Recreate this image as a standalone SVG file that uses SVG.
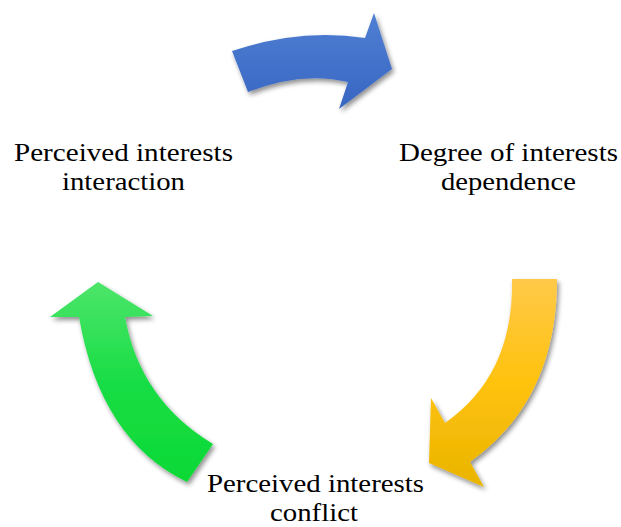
<svg xmlns="http://www.w3.org/2000/svg" width="621" height="527" viewBox="0 0 621 527">
<style>
text{font-family:"Liberation Serif","Times New Roman",serif;font-size:26px;fill:#000;text-anchor:middle}
.arrow{filter:url(#sh)}
</style>
<defs>
<filter id="sh" x="-20%" y="-20%" width="150%" height="150%">
<feGaussianBlur in="SourceAlpha" stdDeviation="2.5"/>
<feOffset dx="2" dy="3" result="b"/>
<feComponentTransfer><feFuncA type="linear" slope="0.45"/></feComponentTransfer>
<feMerge><feMergeNode/><feMergeNode in="SourceGraphic"/></feMerge>
</filter>
<linearGradient id="gb" x1="0" y1="0" x2="0" y2="1">
<stop offset="0" stop-color="#4f7fd3"/>
<stop offset="1" stop-color="#3866c2"/>
</linearGradient>
<linearGradient id="gy" x1="0" y1="0" x2="0" y2="1">
<stop offset="0" stop-color="#ffc948"/>
<stop offset="0.5" stop-color="#ffc20e"/>
<stop offset="1" stop-color="#e9b400"/>
</linearGradient>
<linearGradient id="gg" x1="0" y1="0" x2="0" y2="1">
<stop offset="0" stop-color="#4ce56a"/>
<stop offset="0.5" stop-color="#19dd45"/>
<stop offset="1" stop-color="#0cd935"/>
</linearGradient>
</defs>
<g id="connectors">
<path class="arrow" fill="url(#gb)" d="M232,51 Q300,28 365,38 L374,13 L392,69 L339,109 L348,82 Q302,71 248,92 Z"/>
<path class="arrow" fill="url(#gy)" d="M512,279 L557,279 Q557,400 470,462 L484,487 L429,463 L431,398 L445,423 Q514,375 512,279 Z"/>
<path class="arrow" fill="url(#gg)" d="M187,482 Q100,440 79,317 L50,317 L98,282 L153,316 L125,317 Q140,400 213,444 Z"/>
</g>
<g id="node-interaction">
<text x="123.5" y="160.5" textLength="219" lengthAdjust="spacingAndGlyphs">Perceived interests</text>
<text x="123.5" y="190" textLength="123" lengthAdjust="spacingAndGlyphs">interaction</text>
</g>
<g id="node-dependence">
<text x="508.5" y="160.5" textLength="219" lengthAdjust="spacingAndGlyphs">Degree of interests</text>
<text x="508.5" y="190" textLength="135" lengthAdjust="spacingAndGlyphs">dependence</text>
</g>
<g id="node-conflict">
<text x="315.5" y="491.5" textLength="217" lengthAdjust="spacingAndGlyphs">Perceived interests</text>
<text x="314" y="521" textLength="88" lengthAdjust="spacingAndGlyphs">conflict</text>
</g>
</svg>
